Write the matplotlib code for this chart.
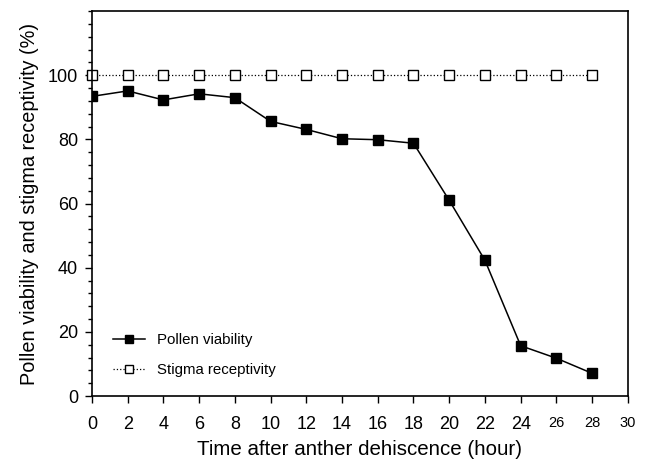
import matplotlib
matplotlib.use('Agg')
import matplotlib.pyplot as plt
from matplotlib.ticker import MultipleLocator

plt.rcParams['font.family'] = ['Liberation Sans', 'DejaVu Sans']

# Datos
hours = [0, 2, 4, 6, 8, 10, 12, 14, 16, 18, 20, 22, 24, 26, 28]
pollen_viability = [93.4, 95.1, 92.3, 94.2, 93.0, 85.6, 83.1, 80.2, 79.9, 78.8,
                    61.0, 42.3, 15.7, 11.8, 7.1]
stigma_receptivity = [100] * len(hours)

fig = plt.figure(figsize=(6.52, 4.59), dpi=100)
ax = fig.add_axes([0.141, 0.137, 0.822, 0.839])

ax.plot(hours, pollen_viability, color='black', linewidth=1.1, marker='s',
        markersize=7.5, markerfacecolor='black', label='Pollen viability')
ax.plot(hours, stigma_receptivity, color='black', linewidth=0.9, linestyle=':',
        marker='s', markersize=7, markerfacecolor='white', markeredgewidth=1.0,
        label='Stigma receptivity', clip_on=False)

ax.set_xlim(0, 30)
ax.set_ylim(0, 120)
ax.xaxis.set_major_locator(MultipleLocator(2))
ax.set_yticks([0, 20, 40, 60, 80, 100])
ax.yaxis.set_minor_locator(MultipleLocator(4))
ax.tick_params(axis='both', direction='out', length=5, width=1, labelsize=13)
ax.tick_params(axis='x', pad=9)
ax.tick_params(axis='y', pad=5)
ax.tick_params(axis='y', which='minor', direction='out', length=3, width=1)
for lbl in ax.get_xticklabels():
    if lbl.get_text() in ('26', '28', '30'):
        lbl.set_fontsize(10.5)

for sp in ax.spines.values():
    sp.set_linewidth(1.2)

ax.set_xlabel('Time after anther dehiscence (hour)', fontsize=14.8, labelpad=5)
ax.set_ylabel('Pollen viability and stigma receptivity (%)', fontsize=14.3, labelpad=6)

ax.legend(loc='lower left', bbox_to_anchor=(0.015, 0.015), frameon=False,
          fontsize=10.8, handlelength=2.1, handletextpad=0.8, labelspacing=1.05,
          markerscale=0.8)

fig.savefig('out.png', dpi=100)
